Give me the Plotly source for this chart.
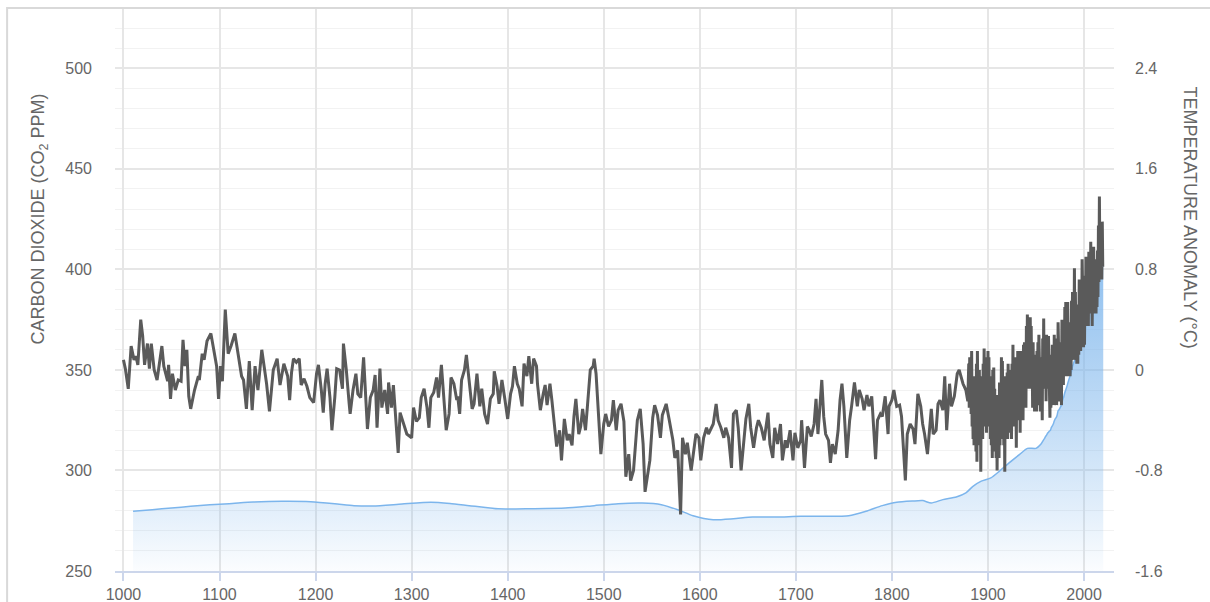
import plotly.graph_objects as go

# ---------------- CO2 (ppm, left axis) ----------------
co2_years = [1010, 1030, 1050, 1070, 1090, 1110, 1135, 1165, 1195, 1220, 1240, 1260, 1290,
             1320, 1340, 1360, 1390, 1425, 1460, 1490, 1515, 1540, 1560, 1577, 1593, 1614,
             1635, 1655, 1680, 1705, 1730, 1755, 1773, 1790, 1805, 1822, 1832, 1841, 1853,
             1867, 1877, 1884, 1893, 1903, 1912, 1922, 1933, 1941, 1950, 1955, 1958,
             1959, 1960, 1961, 1962, 1963, 1964, 1965, 1966, 1967, 1968, 1969,
             1970, 1971, 1972, 1973, 1974, 1975, 1976, 1977, 1978, 1979,
             1980, 1981, 1982, 1983, 1984, 1985, 1986, 1987, 1988, 1989,
             1990, 1991, 1992, 1993, 1994, 1995, 1996, 1997, 1998, 1999,
             2000, 2001, 2002, 2003, 2004, 2005, 2006, 2007, 2008, 2009,
             2010, 2011, 2012, 2013, 2014, 2015, 2016, 2017, 2018, 2019, 2020]
co2_ppm = [279.7, 280.5, 281.3, 282.2, 283.0, 283.5, 284.3, 284.7, 284.5, 283.5, 282.5, 282.3, 283.3,
           284.2, 283.6, 282.5, 280.9, 281.0, 281.3, 282.5, 283.5, 283.8, 283.0, 280.5, 277.5, 275.5,
           276.0, 276.8, 276.8, 277.2, 277.2, 277.5, 279.7, 282.5, 284.2, 284.8, 285.0, 283.8, 285.5,
           286.8, 288.8, 292.0, 294.7, 296.3, 299.7, 303.8, 308.0, 311.0, 311.0, 313.0, 315.3,
           316.0, 316.9, 317.6, 318.5, 319.0, 319.6, 320.0, 321.4, 322.2, 323.1, 324.6,
           325.7, 326.3, 327.5, 329.7, 330.2, 331.1, 332.0, 333.8, 335.4, 336.8,
           338.8, 340.1, 341.5, 343.2, 344.9, 346.4, 347.6, 349.3, 351.7, 353.2,
           354.5, 355.7, 356.5, 357.2, 359.0, 361.0, 362.7, 363.9, 366.8, 368.5,
           369.7, 371.3, 373.5, 376.0, 377.7, 380.0, 382.1, 384.0, 385.8, 387.6,
           390.1, 391.9, 394.1, 396.7, 398.8, 401.0, 404.4, 406.8, 408.7, 411.7, 413.0]

# ---------------- Temperature anomaly (deg C, right axis) ----------------
proxy_years = [1000, 1002, 1005, 1008, 1011, 1013, 1015, 1018, 1020, 1022, 1025, 1027, 1029, 1032, 1035,
               1037, 1040, 1042, 1046, 1047, 1049, 1051, 1054, 1057, 1060, 1062, 1064, 1066, 1068, 1070,
               1074, 1078, 1079, 1082, 1084, 1087, 1091, 1094, 1097, 1099, 1101, 1103, 1106, 1109, 1112,
               1116, 1119, 1123, 1125, 1128, 1131, 1134, 1137, 1140, 1144, 1149, 1152, 1156, 1160, 1163,
               1167, 1171, 1173, 1175, 1177, 1180, 1183, 1185, 1188, 1191, 1194, 1198, 1201, 1203, 1206,
               1208, 1210, 1212, 1215, 1217, 1220, 1222, 1225, 1228, 1229, 1232, 1235, 1236, 1239, 1242,
               1244, 1247, 1250, 1252, 1254, 1257, 1260, 1262, 1264, 1267, 1269, 1272, 1275, 1276, 1279,
               1281, 1283, 1286, 1288, 1290, 1293, 1295, 1300, 1302, 1305, 1308, 1310, 1313, 1316, 1318,
               1320, 1323, 1326, 1328, 1331, 1334, 1336, 1339, 1341, 1344, 1347, 1348, 1350, 1352, 1355,
               1357, 1360, 1363, 1365, 1368, 1371, 1373, 1376, 1379, 1382, 1385, 1386, 1389, 1391, 1394,
               1397, 1400, 1403, 1405, 1407, 1410, 1412, 1415, 1417, 1420, 1422, 1425, 1427, 1430, 1431,
               1434, 1437, 1439, 1441, 1444, 1446, 1449, 1451, 1454, 1456, 1459, 1462, 1464, 1467, 1469,
               1471, 1474, 1476, 1478, 1481, 1483, 1486, 1489, 1490, 1492, 1494, 1497, 1500, 1502, 1505,
               1508, 1510, 1513, 1515, 1518, 1521, 1523, 1526, 1528, 1531, 1535, 1538, 1541, 1543, 1548,
               1551, 1553, 1556, 1559, 1561, 1565, 1568, 1572, 1574, 1577, 1580, 1582, 1585, 1587, 1591,
               1594, 1596, 1599, 1601, 1604, 1607, 1609, 1612, 1614, 1617, 1619, 1622, 1625, 1627, 1630,
               1633, 1635, 1638, 1640, 1643, 1646, 1648, 1651, 1653, 1656, 1659, 1661, 1664, 1667, 1671,
               1673, 1676, 1678, 1681, 1684, 1686, 1689, 1691, 1694, 1697, 1699, 1702, 1705, 1706, 1709,
               1712, 1714, 1716, 1719, 1721, 1723, 1725, 1727, 1729, 1731, 1734, 1736, 1738, 1741, 1744,
               1746, 1748, 1750, 1753, 1756, 1758, 1761, 1764, 1766, 1769, 1771, 1774, 1776, 1779, 1781,
               1783, 1785, 1788, 1790, 1793, 1796, 1797, 1800, 1802, 1805, 1808, 1810, 1812, 1814, 1816,
               1819, 1822, 1824, 1827, 1830, 1832, 1834, 1837, 1839, 1841, 1843, 1846, 1848, 1850, 1853,
               1855, 1857, 1860, 1862, 1865, 1868, 1870, 1874, 1877, 1879]
proxy_temp = [0.08, 0.01, -0.15, 0.19, 0.08, 0.11, 0.04, 0.40, 0.27, 0.04, 0.21, 0.01, 0.21, 0.00, -0.08,
              0.03, 0.19, 0.03, -0.09, 0.04, -0.23, -0.03, -0.16, -0.08, -0.09, 0.24, 0.03, 0.16, -0.21, -0.31,
              -0.16, -0.05, -0.08, 0.13, 0.08, 0.23, 0.29, 0.16, 0.03, -0.23, 0.03, -0.09, 0.48, 0.13, 0.19,
              0.29, 0.15, -0.05, -0.08, -0.31, 0.07, -0.32, 0.03, -0.16, 0.16, -0.11, -0.33, 0.00, 0.09, -0.12,
              0.05, -0.05, -0.24, -0.02, 0.09, 0.06, 0.09, -0.12, -0.07, -0.13, -0.22, -0.26, -0.03, 0.04, -0.16,
              -0.34, -0.11, 0.01, -0.22, -0.48, -0.22, 0.01, 0.00, -0.15, 0.21, 0.00, -0.27, -0.35, -0.16, -0.03,
              -0.19, -0.22, 0.10, -0.16, -0.47, -0.22, -0.16, -0.04, -0.46, 0.01, -0.30, -0.16, -0.35, -0.10, -0.30,
              -0.12, -0.35, -0.66, -0.34, -0.39, -0.48, -0.51, -0.54, -0.30, -0.41, -0.38, -0.22, -0.15, -0.30, -0.46,
              -0.22, -0.18, -0.06, -0.22, 0.04, -0.24, -0.48, -0.35, -0.06, -0.11, -0.24, -0.21, -0.35, -0.08, 0.00,
              0.12, -0.08, -0.31, -0.27, -0.03, -0.29, -0.15, -0.35, -0.43, -0.23, -0.19, -0.01, -0.13, -0.27, -0.08,
              -0.23, -0.39, -0.19, -0.13, 0.03, -0.11, -0.15, -0.29, 0.05, -0.05, 0.11, -0.11, 0.09, 0.03, -0.11,
              -0.32, -0.19, -0.12, -0.28, -0.11, -0.24, -0.48, -0.61, -0.48, -0.72, -0.39, -0.56, -0.51, -0.60, -0.37,
              -0.23, -0.51, -0.45, -0.31, -0.48, -0.29, 0.00, 0.03, 0.09, -0.03, -0.32, -0.67, -0.43, -0.35, -0.45,
              -0.40, -0.24, -0.48, -0.32, -0.27, -0.41, -0.85, -0.67, -0.88, -0.80, -0.40, -0.31, -0.59, -0.97, -0.72,
              -0.38, -0.28, -0.36, -0.54, -0.36, -0.27, -0.39, -0.56, -0.70, -0.64, -1.15, -0.54, -0.67, -0.58, -0.80,
              -0.64, -0.51, -0.54, -0.72, -0.54, -0.46, -0.51, -0.46, -0.43, -0.27, -0.40, -0.46, -0.54, -0.46, -0.54,
              -0.78, -0.35, -0.32, -0.46, -0.80, -0.51, -0.39, -0.27, -0.46, -0.62, -0.46, -0.40, -0.46, -0.56, -0.34,
              -0.59, -0.70, -0.46, -0.59, -0.43, -0.72, -0.56, -0.62, -0.48, -0.72, -0.50, -0.62, -0.56, -0.40, -0.78,
              -0.45, -0.48, -0.53, -0.43, -0.23, -0.51, -0.29, -0.08, -0.37, -0.51, -0.56, -0.74, -0.59, -0.67, -0.48,
              -0.24, -0.11, -0.29, -0.70, -0.40, -0.29, -0.10, -0.29, -0.16, -0.23, -0.32, -0.20, -0.29, -0.21, -0.43,
              -0.71, -0.40, -0.35, -0.37, -0.21, -0.51, -0.29, -0.24, -0.16, -0.29, -0.28, -0.37, -0.61, -0.88, -0.51,
              -0.43, -0.47, -0.59, -0.19, -0.29, -0.43, -0.51, -0.67, -0.51, -0.31, -0.51, -0.48, -0.27, -0.24, -0.32,
              -0.05, -0.48, -0.11, -0.29, -0.21, -0.03, 0.00, -0.11, -0.16, -0.25]

# instrumental era: for each year, a high and a low monthly reading
inst_years = list(range(1880, 2020))
inst_high = [0.05, 0.10, -0.05, 0.15, -0.10, -0.15, -0.05, -0.20, 0.05, 0.15,
             -0.10, 0.00, -0.05, -0.10, -0.05, 0.05, 0.17, 0.10, -0.05, 0.08,
             0.15, 0.10, -0.05, -0.15, -0.25, 0.00, 0.02, -0.15, -0.20, -0.25,
             -0.20, -0.20, -0.10, -0.10, 0.10, 0.07, -0.10, -0.20, -0.05, -0.05,
             -0.02, 0.05, -0.05, 0.00, 0.00, 0.05, 0.20, 0.05, 0.10, -0.10,
             0.10, 0.15, 0.10, -0.05, 0.15, 0.05, 0.10, 0.20, 0.22, 0.22,
             0.35, 0.44, 0.30, 0.30, 0.42, 0.35, 0.15, 0.22, 0.10, 0.12,
             0.05, 0.15, 0.22, 0.28, 0.08, 0.10, 0.00, 0.25, 0.41, 0.25,
             0.18, 0.28, 0.22, 0.27, 0.00, 0.08, 0.12, 0.20, 0.12, 0.28,
             0.25, 0.12, 0.22, 0.38, 0.15, 0.22, 0.12, 0.40, 0.30, 0.38,
             0.50, 0.54, 0.35, 0.54, 0.38, 0.32, 0.38, 0.55, 0.62, 0.48,
             0.81, 0.62, 0.45, 0.45, 0.52, 0.72, 0.55, 0.70, 0.88, 0.60,
             0.62, 0.75, 0.90, 0.85, 0.75, 0.94, 0.85, 1.02, 0.75, 0.88,
             0.98, 0.82, 0.88, 0.88, 0.95, 1.15, 1.38, 1.12, 1.05, 1.18]
inst_low = [-0.30, -0.25, -0.35, -0.45, -0.55, -0.60, -0.55, -0.65, -0.73, -0.30,
            -0.60, -0.45, -0.81, -0.55, -0.55, -0.45, -0.35, -0.35, -0.50, -0.40,
            -0.30, -0.45, -0.55, -0.60, -0.70, -0.55, -0.50, -0.65, -0.70, -0.80,
            -0.65, -0.70, -0.60, -0.55, -0.40, -0.35, -0.60, -0.81, -0.55, -0.50,
            -0.55, -0.45, -0.50, -0.50, -0.55, -0.45, -0.35, -0.45, -0.45, -0.62,
            -0.40, -0.30, -0.40, -0.50, -0.35, -0.40, -0.40, -0.25, -0.25, -0.30,
            -0.15, -0.05, -0.15, -0.10, 0.00, -0.15, -0.30, -0.25, -0.33, -0.30,
            -0.33, -0.28, -0.20, -0.12, -0.33, -0.33, -0.40, -0.15, -0.10, -0.15,
            -0.25, -0.12, -0.15, -0.15, -0.38, -0.30, -0.25, -0.22, -0.28, -0.15,
            -0.18, -0.28, -0.20, -0.05, -0.25, -0.20, -0.28, 0.00, -0.12, -0.05,
            0.05, 0.10, -0.05, 0.10, -0.02, -0.05, 0.00, 0.12, 0.18, 0.08,
            0.22, 0.20, 0.05, 0.05, 0.12, 0.25, 0.15, 0.28, 0.40, 0.18,
            0.20, 0.35, 0.42, 0.42, 0.35, 0.48, 0.45, 0.45, 0.35, 0.45,
            0.55, 0.45, 0.45, 0.50, 0.58, 0.70, 0.85, 0.78, 0.72, 0.82]

x_ticks = [1000, 1100, 1200, 1300, 1400, 1500, 1600, 1700, 1800, 1900, 2000]
co2_ticks = [250, 300, 350, 400, 450, 500]
temp_ticks = [-1.6, -0.8, 0, 0.8, 1.6, 2.4]
temp_tick_labels = ["-1.6", "-0.8", "0", "0.8", "1.6", "2.4"]

# build the temperature series
temp_x = list(proxy_years)
temp_y = list(proxy_temp)
for yr, hi, lo in zip(inst_years, inst_high, inst_low):
    temp_x += [yr, yr + 0.5]
    temp_y += [hi, lo]

TEXT = "#666666"
FONT = "Liberation Sans, Arial, sans-serif"

fig = go.Figure()
fig.add_trace(go.Scatter(
    x=co2_years, y=co2_ppm, mode="lines", yaxis="y",
    line=dict(color="#7cb5ec", width=1.5, shape="spline", smoothing=0.6),
    fill="tozeroy",
    fillgradient=dict(type="vertical", start=250, stop=412,
                      colorscale=[[0, "rgba(124,181,236,0.03)"],
                                  [0.19, "rgba(124,181,236,0.22)"],
                                  [0.5, "rgba(124,181,236,0.50)"],
                                  [1, "rgba(124,181,236,0.88)"]]),
    hoverinfo="skip", showlegend=False))
fig.add_trace(go.Scatter(
    x=temp_x, y=temp_y, mode="lines", yaxis="y2",
    line=dict(color="#5a5a5a", width=3),
    hoverinfo="skip", showlegend=False))

fig.update_layout(
    width=1210, height=602,
    margin=dict(l=115, r=96, t=8, b=31, autoexpand=False),
    paper_bgcolor="white", plot_bgcolor="white",
    showlegend=False,
    font=dict(family=FONT, color=TEXT, size=16),
    xaxis=dict(range=[991.2, 2031.2], tickvals=x_ticks, showgrid=True,
               gridcolor="#e6e6e6", gridwidth=1.5, zeroline=False,
               showline=True, linecolor="#ccd6eb", linewidth=1.5,
               ticks="outside", ticklen=8, tickcolor="#ccd6eb", tickwidth=1.5,
               tickfont=dict(size=16, color=TEXT), automargin=False),
    yaxis=dict(range=[250, 530], tickvals=co2_ticks, showgrid=True,
               gridcolor="#e6e6e6", gridwidth=1.5, zeroline=False,
               minor=dict(tick0=250, dtick=10, showgrid=True, gridcolor="#f2f2f2", gridwidth=1),
               tickfont=dict(size=16, color=TEXT), ticklabelstandoff=22, automargin=False),
    yaxis2=dict(range=[-1.6, 2.88], overlaying="y", side="right",
                tickvals=temp_ticks, ticktext=temp_tick_labels, showgrid=False,
                zeroline=False, tickfont=dict(size=16, color=TEXT),
                ticklabelstandoff=20, automargin=False),
    shapes=[dict(type="rect", xref="paper", yref="paper", x0=-0.108, x1=1.2, y0=-0.3, y1=1.0,
                 line=dict(color="#d9d9d9", width=2), fillcolor="rgba(0,0,0,0)", layer="above")],
    annotations=[
        dict(text="CARBON DIOXIDE (CO<sub>2</sub> PPM)", xref="paper", yref="paper",
             x=-0.0751, y=0.626, xanchor="center", yanchor="middle", textangle=-90,
             showarrow=False, font=dict(size=18, color=TEXT, family=FONT)),
        dict(text="TEMPERATURE ANOMALY (°C)", xref="paper", yref="paper",
             x=1.0761, y=0.628, xanchor="center", yanchor="middle", textangle=90,
             showarrow=False, font=dict(size=18, color=TEXT, family=FONT)),
    ],
)

fig.write_html("out.html", config={"displayModeBar": False},
               post_script="document.body.style.margin='0';document.body.style.overflow='hidden';")
